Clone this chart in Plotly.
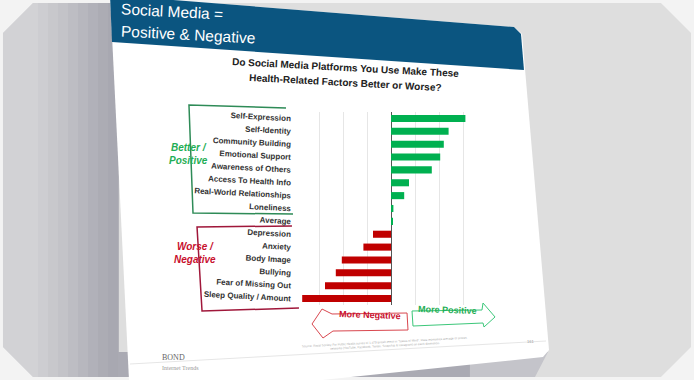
import plotly.graph_objects as go

# ---------------- data ----------------
categories = ["Self-Expression", "Self-Identity", "Community Building", "Emotional Support",
              "Awareness of Others", "Access To Health Info", "Real-World Relationships",
              "Loneliness", "Average", "Depression", "Anxiety", "Body Image", "Bullying",
              "Fear of Missing Out", "Sleep Quality / Amount"]
scores = [3.1, 2.4, 2.2, 2.05, 1.7, 0.75, 0.55, 0.1, 0.05,
          -0.75, -1.15, -2.05, -2.3, -2.75, -3.7]
x_ticks = [-4, -3, -2, -1, 0, 1, 2, 3, 4]

slide_title = ["Social Media =", "Positive & Negative"]
chart_title = ["Do Social Media Platforms You Use Make These",
               "Health-Related Factors Better or Worse?"]

OFF = 0
W, H = 694, 380
GREEN = "#00b050"
RED = "#c00000"
BLUE = "#0b5580"


def px(x):
    return (x - OFF) / W


def py(y):
    return 1 - (y - OFF) / H


def path(points, close=True):
    s = "M " + " L ".join(f"{px(x):.4f},{py(y):.4f}" for x, y in points)
    return s + (" Z" if close else "")


bar_colors = [GREEN if v >= 0 else RED for v in scores]

fig = go.Figure(go.Bar(
    x=scores, y=categories, orientation="h",
    marker=dict(color=bar_colors, line=dict(width=0)),
    hoverinfo="x+y",
))

shapes = []
# card background
shapes.append(dict(type="path", xref="paper", yref="paper", layer="below",
                   path=path([(33, 3), (661, 3), (691, 33), (691, 347), (661, 377),
                              (33, 377), (3, 347), (3, 33)]),
                   fillcolor="#dedede", line=dict(width=0)))
shapes.append(dict(type="path", xref="paper", yref="paper", layer="below",
                   path=path([(33, 3), (40, 3), (40, 377), (33, 377), (3, 347), (3, 33)]),
                   fillcolor="#d2d2d5", line=dict(width=0)))
# left gradient strips
grad = ["#cdcdd1", "#c8c8cc", "#c3c3c8", "#bdbdc3", "#b7b7be",
        "#b1b1b9", "#acacb4", "#a8a8b1"]
x0 = 38
step = (118 - x0) / len(grad)
for i, c in enumerate(grad):
    xa, xb = x0 + i * step, x0 + (i + 1) * step + 0.8
    shapes.append(dict(type="path", xref="paper", yref="paper", layer="below",
                       path=path([(xa, 3), (xb, 3), (xb, 377), (xa, 377)]),
                       fillcolor=c, line=dict(width=0)))
# shadow under slide bottom
shapes.append(dict(type="path", xref="paper", yref="paper", layer="below",
                   path=path([(118, 377), (470, 377), (470, 352), (118, 352)]),
                   fillcolor="#aaaab3", line=dict(width=0)))
shapes.append(dict(type="path", xref="paper", yref="paper", layer="below",
                   path=path([(470, 377), (535, 377), (548, 352), (470, 352)]),
                   fillcolor="#c4c4ca", line=dict(width=0)))
# slide (white, slightly rotated)
shapes.append(dict(type="path", xref="paper", yref="paper", layer="below",
                   path=path([(110, -5), (514, 27), (522, 34), (549, 350), (543, 357),
                              (130, 400)]),
                   fillcolor="white", line=dict(width=0)))
# header band
shapes.append(dict(type="path", xref="paper", yref="paper", layer="below",
                   path=path([(110, -5), (514, 27), (521, 34), (524, 70), (112, 42)]),
                   fillcolor=BLUE, line=dict(width=0)))
# green bracket
shapes.append(dict(type="path", xref="paper", yref="paper", layer="below",
                   path=path([(286, 108), (189, 105), (193, 213), (293, 214)], close=False),
                   line=dict(color="#2e8b57", width=1.5)))
# red bracket
shapes.append(dict(type="path", xref="paper", yref="paper", layer="below",
                   path=path([(292, 226), (197, 227), (202, 311), (299, 308)], close=False),
                   line=dict(color="#a0173a", width=1.5)))
# arrows
shapes.append(dict(type="path", xref="paper", yref="paper", layer="below",
                   path=path([(407, 313), (332, 314), (322, 309), (312, 324), (323, 338),
                              (333, 331), (408, 330)]),
                   fillcolor="white", line=dict(color="#d9474f", width=1)))
shapes.append(dict(type="path", xref="paper", yref="paper", layer="below",
                   path=path([(412, 311), (482, 310), (483, 303), (495, 317), (484, 327),
                              (483, 323), (413, 326)]),
                   fillcolor="white", line=dict(color="#3cc77a", width=1)))
# footer rule
shapes.append(dict(type="line", xref="paper", yref="paper", layer="below",
                   x0=px(130), y0=py(364), x1=px(546), y1=py(341),
                   line=dict(color="#e6e6e6", width=1)))

annotations = []
for i, t in enumerate(slide_title):
    annotations.append(dict(text=t, x=px(119), y=py(12 + i * 22), xref="paper", yref="paper",
                            xanchor="left", yanchor="middle", showarrow=False, textangle=3,
                            font=dict(family="Liberation Sans, Arial", size=15.5, color="white")))
for i, t in enumerate(chart_title):
    annotations.append(dict(text=f"<b>{t}</b>", x=px(345), y=py(67 + i * 15), xref="paper",
                            yref="paper", xanchor="center", yanchor="middle", showarrow=False,
                            textangle=3,
                            font=dict(family="Liberation Sans, Arial", size=10, color="#222")))
annotations.append(dict(text="<b><i>Better /<br>Positive</i></b>", x=px(167), y=py(154),
                        xref="paper", yref="paper", showarrow=False, align="center",
                        font=dict(family="Liberation Sans, Arial", size=10, color="#1fae55")))
annotations.append(dict(text="<b><i>Worse /<br>Negative</i></b>", x=px(172), y=py(267),
                        xref="paper", yref="paper", showarrow=False, align="center",
                        font=dict(family="Liberation Sans, Arial", size=10, color="#c8102e")))
annotations.append(dict(text="<b>More Negative</b>", x=px(370), y=py(323), xref="paper",
                        yref="paper", showarrow=False, textangle=2,
                        font=dict(family="Liberation Sans, Arial", size=9, color="#c8102e")))
annotations.append(dict(text="<b>More Positive</b>", x=px(447), y=py(318), xref="paper",
                        yref="paper", showarrow=False, textangle=2,
                        font=dict(family="Liberation Sans, Arial", size=9, color="#1fae55")))
annotations.append(dict(text="BOND", x=px(160), y=py(364), xref="paper", yref="paper",
                        showarrow=False,
                        font=dict(family="Liberation Serif, serif", size=8, color="#666")))
annotations.append(dict(text="Internet Trends", x=px(160), y=py(373), xref="paper",
                        yref="paper", showarrow=False,
                        font=dict(family="Liberation Serif, serif", size=6, color="#999")))
annotations.append(dict(
    text="Source: Royal Society For Public Health survey of 1,479 British teens in \u201cStatus of Mind\u201d. Data represents average of scores.<br>"
         "networks (YouTube, Facebook, Twitter, Snapchat & Instagram) on each dimension.",
    x=px(385), y=py(354), xref="paper", yref="paper", showarrow=False, textangle=-3,
    font=dict(family="Liberation Sans, Arial", size=3, color="#aaa")))
annotations.append(dict(text="161", x=px(536), y=py(346), xref="paper", yref="paper",
                        showarrow=False,
                        font=dict(family="Liberation Sans, Arial", size=4, color="#999")))

fig.update_layout(
    width=W, height=H,
    margin=dict(l=0, r=0, t=0, b=0),
    paper_bgcolor="#f3f3f3",
    plot_bgcolor="rgba(0,0,0,0)",
    showlegend=False,
    bargap=0.45,
    shapes=shapes,
    annotations=annotations,
    xaxis=dict(domain=[px(295), px(487)], range=[-4, 4], tickvals=x_ticks,
               showticklabels=False, showgrid=True, gridcolor="#e6e6e6", gridwidth=1,
               zeroline=True, zerolinecolor="#555", zerolinewidth=1.2, fixedrange=True),
    yaxis=dict(domain=[py(305), py(112)], categoryorder="array",
               categoryarray=categories[::-1], autorange=False,
               range=[-0.5, len(categories) - 0.5], tickangle=3,
               showgrid=False, zeroline=False, ticks="", ticklabelstandoff=3,
               tickfont=dict(family="Liberation Sans, Arial", size=8, color="#333",
                             weight="bold"), fixedrange=True),
)

fig.write_html("out.html", config={"displayModeBar": False},
               post_script="document.body.style.margin='0px';")
